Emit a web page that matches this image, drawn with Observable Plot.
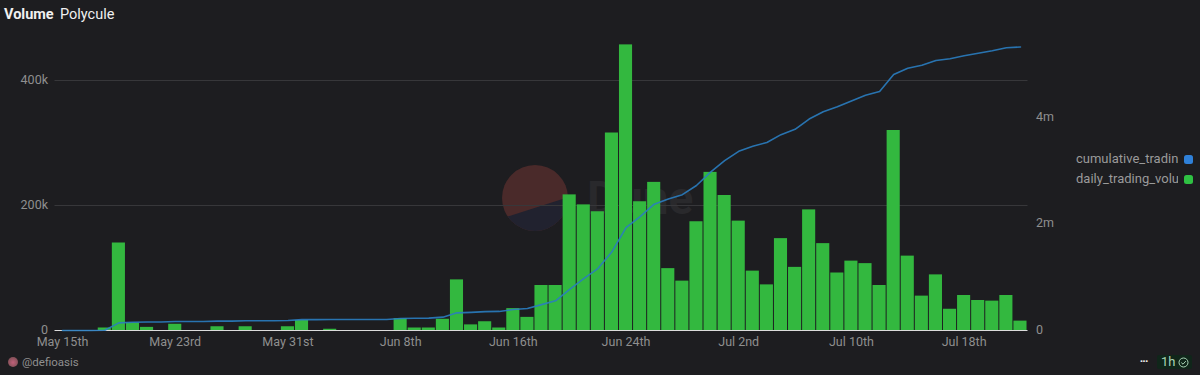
<!DOCTYPE html>
<html>
<head>
<meta charset="utf-8">
<script src="https://cdn.jsdelivr.net/npm/d3@7"></script>
<script src="https://cdn.jsdelivr.net/npm/@observablehq/plot@0.6"></script>
<style>
  html,body{margin:0;padding:0;background:#1d1d20;}
  body{width:1200px;height:375px;overflow:hidden;position:relative;font-family:Roboto,"Noto Sans",sans-serif;}
  #header{height:30px;position:relative;color:#f0f0f0;font-size:14.5px;}
  #header span{position:absolute;top:6px;}
  #watermark{position:absolute;left:0;top:0;z-index:0;}
  #chart{position:absolute;left:0;top:30px;z-index:1;}
  #legend{position:absolute;left:1076px;top:150px;z-index:2;font-size:13px;color:#9a9a9a;}
  .row{height:19.5px;position:relative;width:118px;line-height:18px;}
  .row .name{display:block;width:102px;overflow:hidden;white-space:nowrap;}
  .row i{position:absolute;left:108px;top:5px;width:9px;height:9px;border-radius:2.5px;}
  #footer{position:absolute;left:0;top:352px;width:1200px;height:23px;color:#8f8f8f;font-size:11.5px;z-index:2;}
  #avatar{position:absolute;left:8px;top:5px;width:10px;height:10px;border-radius:50%;background:radial-gradient(circle at 50% 55%,#c0607a,#6a4a4a);}
  #handle{position:absolute;left:22px;top:3px;}
  #dots{position:absolute;left:1140px;top:3px;color:#f0f0f0;font-size:8px;line-height:14px;font-weight:700;letter-spacing:-.3px;}
  #chip{position:absolute;left:1157px;top:3px;width:35px;height:13.5px;background:#10261a;border-radius:2px;color:#a9d5b6;font-size:13px;line-height:14px;}
  #chip span{position:absolute;left:4px;}
  #chip svg{position:absolute;left:21px;top:1.5px;}
</style>
</head>
<body>
<div id="header"><span style="left:4px;font-weight:700;">Volume</span><span style="left:60px;">Polycule</span></div>
<svg id="watermark" width="1200" height="375">
  <defs><clipPath id="disc"><circle cx="535" cy="198" r="33"></circle></clipPath></defs>
  <circle cx="535" cy="198" r="33" fill="#4a2a2a"></circle>
  <polygon points="500,219 572,196 572,240 500,240" fill="#21222f" clip-path="url(#disc)"></polygon>
  <text x="587" y="214" fill="#29292c" font-size="46" font-weight="700" font-family="Roboto,sans-serif">Dune</text>
</svg>
<div id="chart"></div>
<div id="legend">
  <div class="row"><span class="name">cumulative_trading_volume</span><i style="background:#2f80d8"></i></div>
  <div class="row"><span class="name">daily_trading_volume</span><i style="background:#2fc143"></i></div>
</div>
<div id="footer">
  <div id="avatar"></div><div id="handle">@defioasis</div>
  <div id="dots">&#8226;&#8226;&#8226;</div>
  <div id="chip"><span>1h</span><svg width="11" height="11" viewBox="0 0 11 11"><circle cx="5.5" cy="5.5" r="4.5" fill="none" stroke="#a9d5b6" stroke-width="1"></circle><path d="M3.3 5.6 L5 7.2 L7.8 4.1" fill="none" stroke="#a9d5b6" stroke-width="1"></path></svg></div>
</div>
<script>
const days = d3.utcDay.range(new Date("2024-05-15"), new Date("2024-07-23")).map(d => d.toISOString().slice(0, 10));
const dailyVolume = [0,0,0,4000,140000,12000,5000,0,10000,0,0,6000,0,6000,0,0,6000,16000,0,2000,0,0,0,0,
  19000,4000,4000,18000,81000,9000,14000,4000,35000,21000,72000,72000,217000,201000,190000,316000,457000,206000,237000,99000,79000,174000,253000,
  216000,175000,95000,73000,147000,101000,193000,139000,92000,111000,107000,72000,320000,119000,55000,89000,34000,56000,48000,47000,56000,15000];
const cumulativeVolume = [0,0,0,4000,144000,156000,161000,161000,171000,171000,171000,177000,177000,183000,183000,183000,189000,205000,205000,207000,207000,207000,207000,207000,
  226000,230000,234000,252000,333000,342000,356000,360000,395000,416000,488000,560000,777000,978000,1168000,1484000,1941000,2147000,2384000,2483000,2562000,2736000,2989000,
  3205000,3380000,3475000,3548000,3695000,3796000,3989000,4128000,4220000,4331000,4438000,4510000,4830000,4949000,5004000,5093000,5127000,5183000,5231000,5278000,5334000,5349000];
const tickDays = ["2024-05-15","2024-05-23","2024-05-31","2024-06-08","2024-06-16","2024-06-24","2024-07-02","2024-07-10","2024-07-18"];
const tickLabels = ["May 15th","May 23rd","May 31st","Jun 8th","Jun 16th","Jun 24th","Jul 2nd","Jul 10th","Jul 18th"];
const leftTicks = [0,200000,400000];
const rightTicks = [0,2000000,4000000];
const leftMax = 480000;
const rightMax = 5660000;

const toLeft = d3.scaleLinear().domain([0,rightMax]).range([0,leftMax]);
const rows = days.map((day,i)=>({day, daily:dailyVolume[i], cumulative:toLeft(cumulativeVolume[i])}));
const fmtK = d => d===0 ? "0" : d/1000+"k";
const fmtM = d => { const v=Math.round(toLeft.invert(d)); return v===0 ? "0" : v/1e6+"m"; };

const plot = Plot.plot({
  width:1200, height:322,
  marginLeft:54.5, marginRight:172.5, marginTop:0, marginBottom:22,
  style:{background:"transparent", color:"#8f8f8f", fontFamily:"Roboto,'Noto Sans',sans-serif", fontSize:"12.5px"},
  x:{type:"band", domain:days, padding:0.07, round:false, label:null},
  y:{domain:[0,leftMax], label:null},
  marks:[
    Plot.ruleY([200000,400000],{stroke:"#37373a", strokeWidth:1}),
    Plot.barY(rows,{x:"day", y:"daily", fill:"#33b83f"}),
    Plot.ruleY([0],{stroke:"#dcdcdc", strokeWidth:1}),
    Plot.line(rows,{x:"day", y:"cumulative", stroke:"#2a7dc0", strokeWidth:1.6, strokeOpacity:0.9}),
    Plot.axisX({ticks:tickDays, tickFormat:d=>tickLabels[tickDays.indexOf(d)], tickSize:0, tickPadding:7, label:null, fill:"#8f8f8f"}),
    Plot.axisY({anchor:"left", ticks:leftTicks, tickFormat:fmtK, tickSize:0, tickPadding:7, label:null, fill:"#8f8f8f", dy:-1}),
    Plot.axisY({anchor:"right", ticks:rightTicks.map(toLeft), tickFormat:fmtM, tickSize:0, tickPadding:8, label:null, fill:"#8f8f8f", dy:-1})
  ]
});
document.getElementById("chart").appendChild(plot);
</script>
</body>
</html>
